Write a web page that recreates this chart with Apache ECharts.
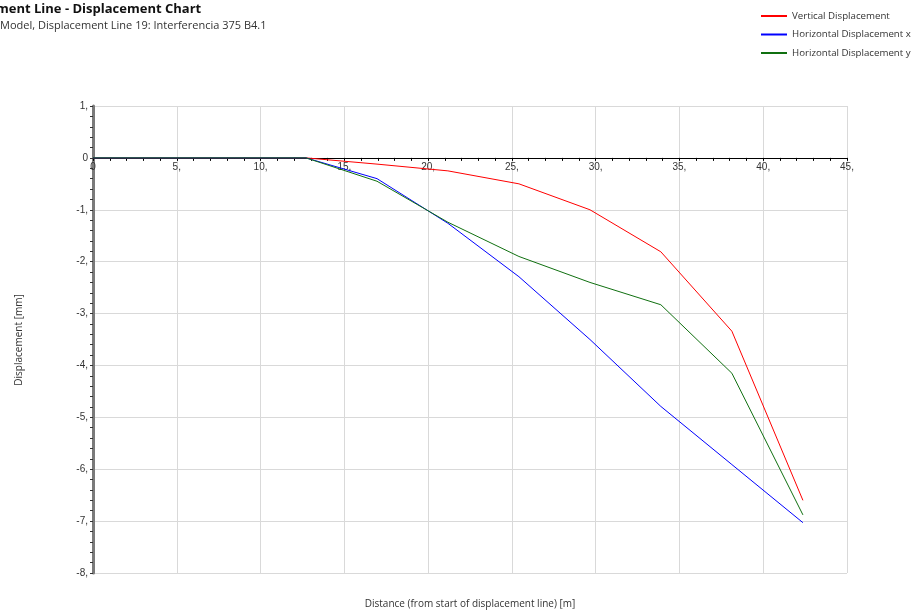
<!DOCTYPE html>
<html>
<head>
<meta charset="utf-8">
<script src="https://cdn.jsdelivr.net/npm/echarts@6/dist/echarts.min.js"></script>
<style>
html,body{margin:0;padding:0;background:#fff;}
#chart{width:916px;height:611px;}
</style>
</head>
<body>
<div id="chart"></div>
<script>
// Data
var distance = [0, 4.24, 8.47, 12.71, 16.95, 21.18, 25.42, 29.66, 33.89, 38.13, 42.37];
var verticalDisp = [0, 0, 0, 0, -0.12, -0.25, -0.50, -1.00, -1.81, -3.34, -6.60];
var horizontalX = [0, 0, 0, 0, -0.40, -1.26, -2.29, -3.50, -4.79, -5.91, -7.03];
var horizontalY = [0, 0, 0, 0, -0.45, -1.24, -1.90, -2.40, -2.83, -4.15, -6.88];
var seriesNames = ['Vertical Displacement', 'Horizontal Displacement x', 'Horizontal Displacement y'];
var seriesColors = ['#ff0000', '#0000ff', '#107010'];
var titleText = 'ment Line - Displacement Chart';
var subtitleText = 'Model, Displacement Line 19: Interferencia 375 B4.1';
var xAxisName = 'Distance (from start of displacement line) [m]';
var yAxisName = 'Displacement [mm]';
var yMin = -8, yMax = 1;

function pairs(xs, ys) { return xs.map(function (x, i) { return [x, ys[i]]; }); }
function tickFmt(v) { return v === 0 ? '0' : (v + ','); }

var W = 916, H = 611;
var gridTop = 106, gridBottom = 38;
var plotH = H - gridTop - gridBottom;
// shift the x axis up from the bottom of the grid to the y = 0 line
var xOffset = -plotH * (0 - yMin) / (yMax - yMin);

var chart = echarts.init(document.getElementById('chart'), null, {renderer: 'canvas'});
var labelFont = {fontFamily: 'Liberation Sans', fontSize: 10, color: '#333'};

chart.setOption({
  animation: false,
  backgroundColor: '#fff',
  grid: {left: 93, right: 69, top: gridTop, bottom: gridBottom, containLabel: false},
  legend: {
    orient: 'vertical', left: 756, top: 6, itemWidth: 26, itemHeight: 2, itemGap: 8.5,
    icon: 'rect',
    textStyle: {fontFamily: 'Open Sans', fontSize: 9.7, color: '#333'},
    data: seriesNames
  },
  graphic: [
    {type: 'text', left: -4, top: 3, style: {text: titleText, font: 'bold 13px "Open Sans"', fill: '#111'}},
    {type: 'text', left: 0, top: 20, style: {text: subtitleText, font: '11px "Open Sans"', fill: '#333'}},
    {type: 'text', x: 470, y: 604, style: {text: xAxisName, font: '10px "Open Sans"', fill: '#333', align: 'center', verticalAlign: 'middle'}},
    {type: 'text', x: 19, y: 340, rotation: Math.PI / 2, style: {text: yAxisName, font: '10px "Open Sans"', fill: '#333', align: 'center', verticalAlign: 'middle'}}
  ],
  xAxis: {
    type: 'value', min: 0, max: 45, interval: 5,
    position: 'bottom', offset: xOffset,
    axisLine: {show: true, onZero: false, lineStyle: {color: '#000', width: 1}},
    axisTick: {show: true, length: 3, lineStyle: {color: '#000'}},
    minorTick: {show: true, splitNumber: 5, length: 3, lineStyle: {color: '#000'}},
    axisLabel: Object.assign({formatter: tickFmt, margin: 4}, labelFont),
    splitLine: {show: true, lineStyle: {color: '#d9d9d9', width: 1}}
  },
  yAxis: {
    type: 'value', min: yMin, max: yMax, interval: 1,
    axisLine: {show: true, onZero: false, lineStyle: {color: '#7a7a7a', width: 3}},
    axisTick: {show: true, length: 3, lineStyle: {color: '#333'}},
    minorTick: {show: true, splitNumber: 5, length: 3, lineStyle: {color: '#333'}},
    axisLabel: Object.assign({formatter: tickFmt, margin: 5}, labelFont),
    splitLine: {show: true, lineStyle: {color: '#d9d9d9', width: 1}}
  },
  series: seriesNames.map(function (name, i) {
    var ys = [verticalDisp, horizontalX, horizontalY][i];
    return {name: name, type: 'line', symbol: 'none', data: pairs(distance, ys),
      lineStyle: {color: seriesColors[i], width: 1}, itemStyle: {color: seriesColors[i]}};
  })
});
</script>
</body>
</html>
